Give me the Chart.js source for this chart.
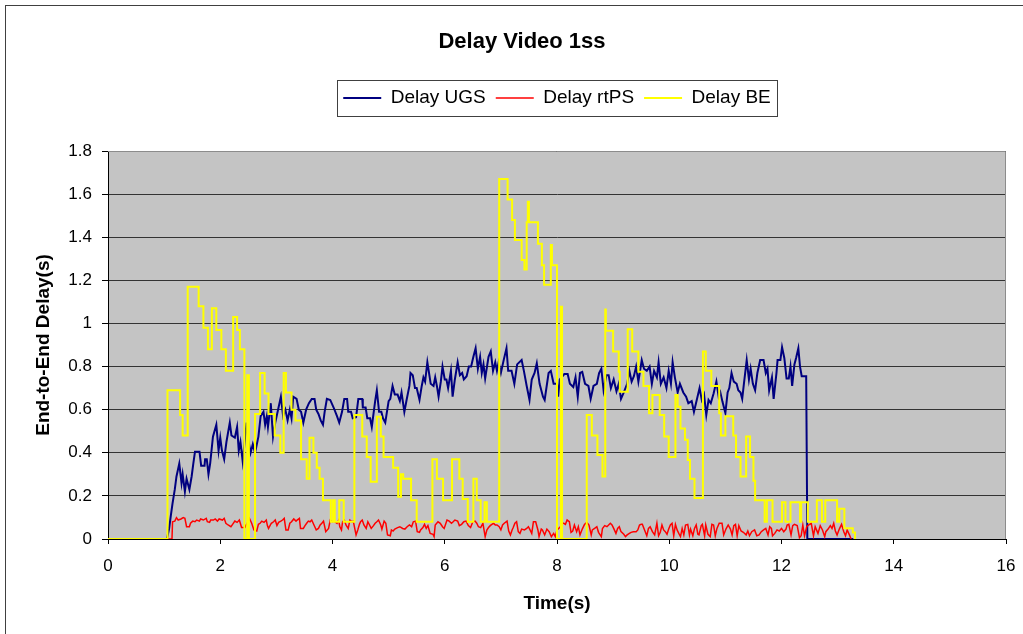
<!DOCTYPE html>
<html>
<head>
<meta charset="utf-8">
<title>Delay Video 1ss</title>
<script src="https://cdn.jsdelivr.net/npm/chart.js@4.4.1/dist/chart.umd.min.js"></script>
<style>
  html, body { margin: 0; padding: 0; background: #ffffff; }
  canvas { display: block; }
</style>
</head>
<body>
<canvas id="delayChart" width="1023" height="634"></canvas>
<script>
// Axis ticks and their labels
const xTicks = [0, 2, 4, 6, 8, 10, 12, 14, 16];
const xTickLabels = ['0', '2', '4', '6', '8', '10', '12', '14', '16'];
const yTicks = [0, 0.2, 0.4, 0.6, 0.8, 1.0, 1.2, 1.4, 1.6, 1.8];
const yTickLabels = ['0', '0.2', '0.4', '0.6', '0.8', '1', '1.2', '1.4', '1.6', '1.8'];

const seriesNames = ['Delay UGS', 'Delay rtPS', 'Delay BE'];

// [time (s), end-to-end delay (s)]
const ugsDelay = [
  [0,0],[1.05,0],[1.09,0.05],[1.12,0.11],[1.15,0.165],[1.19,0.23],[1.22,0.29],[1.27,0.35],[1.31,0.26],[1.33,0.30],
  [1.37,0.22],[1.40,0.28],[1.45,0.23],[1.49,0.29],[1.52,0.35],[1.55,0.405],[1.63,0.405],[1.66,0.34],[1.72,0.34],[1.73,0.37],
  [1.76,0.37],[1.79,0.30],[1.82,0.35],[1.87,0.475],[1.93,0.53],[1.97,0.41],[2.00,0.47],[2.03,0.41],[2.07,0.37],[2.11,0.45],
  [2.17,0.54],[2.20,0.48],[2.26,0.47],[2.30,0.52],[2.33,0.41],[2.36,0.45],[2.40,0.36],[2.47,0.54],[2.50,0.46],[2.54,0.40],
  [2.58,0.44],[2.62,0.40],[2.68,0.475],[2.72,0.57],[2.77,0.59],[2.80,0.53],[2.83,0.57],[2.85,0.52],[2.90,0.63],[2.94,0.475],
  [2.98,0.54],[3.03,0.60],[3.08,0.66],[3.12,0.57],[3.16,0.60],[3.20,0.55],[3.24,0.60],[3.27,0.56],[3.30,0.66],[3.36,0.65],
  [3.40,0.60],[3.44,0.59],[3.48,0.54],[3.53,0.60],[3.58,0.63],[3.63,0.65],[3.68,0.65],[3.71,0.60],[3.75,0.58],[3.79,0.55],
  [3.83,0.53],[3.86,0.59],[3.90,0.65],[3.96,0.645],[4.02,0.61],[4.08,0.57],[4.12,0.54],[4.17,0.59],[4.21,0.65],[4.26,0.65],
  [4.28,0.59],[4.33,0.59],[4.36,0.56],[4.42,0.565],[4.46,0.65],[4.53,0.65],[4.54,0.61],[4.59,0.61],[4.62,0.56],[4.67,0.56],
  [4.70,0.52],[4.76,0.64],[4.79,0.69],[4.83,0.59],[4.87,0.59],[4.90,0.56],[4.94,0.54],[5.00,0.64],[5.03,0.65],[5.07,0.71],
  [5.11,0.67],[5.16,0.67],[5.20,0.64],[5.23,0.68],[5.28,0.59],[5.32,0.645],[5.37,0.71],[5.39,0.77],[5.43,0.76],[5.47,0.70],
  [5.50,0.70],[5.55,0.645],[5.59,0.71],[5.62,0.75],[5.65,0.73],[5.69,0.82],[5.72,0.77],[5.75,0.72],[5.80,0.71],[5.83,0.75],
  [5.86,0.71],[5.89,0.66],[5.93,0.73],[5.96,0.80],[6.00,0.74],[6.03,0.74],[6.06,0.70],[6.11,0.78],[6.14,0.66],[6.18,0.74],
  [6.23,0.82],[6.27,0.76],[6.31,0.77],[6.34,0.74],[6.39,0.755],[6.43,0.80],[6.47,0.80],[6.51,0.845],[6.55,0.885],[6.59,0.79],
  [6.63,0.845],[6.66,0.77],[6.69,0.81],[6.72,0.745],[6.78,0.845],[6.82,0.87],[6.86,0.78],[6.90,0.82],[6.93,0.78],[6.96,0.82],
  [7.00,0.77],[7.05,0.83],[7.10,0.885],[7.13,0.78],[7.19,0.78],[7.24,0.72],[7.29,0.81],[7.37,0.83],[7.41,0.78],[7.46,0.71],
  [7.51,0.645],[7.55,0.74],[7.60,0.77],[7.64,0.815],[7.69,0.72],[7.75,0.66],[7.78,0.645],[7.85,0.77],[7.89,0.78],[7.94,0.72],
  [8.00,0.72],[8.02,0.66],[8.05,0.74],[8.13,0.765],[8.19,0.765],[8.23,0.72],[8.29,0.705],[8.33,0.75],[8.37,0.66],[8.41,0.77],
  [8.45,0.775],[8.50,0.72],[8.56,0.71],[8.60,0.65],[8.65,0.71],[8.71,0.72],[8.75,0.77],[8.79,0.79],[8.83,0.69],[8.88,0.76],
  [8.92,0.76],[8.96,0.70],[9.01,0.74],[9.06,0.685],[9.10,0.72],[9.14,0.65],[9.19,0.68],[9.25,0.72],[9.29,0.78],[9.33,0.73],
  [9.37,0.755],[9.41,0.80],[9.45,0.73],[9.51,0.83],[9.55,0.79],[9.60,0.78],[9.65,0.80],[9.69,0.72],[9.73,0.78],[9.78,0.75],
  [9.81,0.82],[9.85,0.72],[9.90,0.75],[9.95,0.70],[9.99,0.78],[10.03,0.72],[10.06,0.82],[10.10,0.75],[10.15,0.68],[10.19,0.72],
  [10.25,0.68],[10.30,0.66],[10.34,0.63],[10.40,0.64],[10.44,0.59],[10.49,0.645],[10.54,0.70],[10.58,0.645],[10.62,0.67],[10.66,0.575],
  [10.70,0.645],[10.74,0.63],[10.79,0.675],[10.84,0.73],[10.88,0.66],[10.91,0.68],[10.95,0.635],[11.00,0.585],[11.04,0.68],[11.07,0.70],
  [11.11,0.77],[11.15,0.73],[11.20,0.72],[11.23,0.69],[11.27,0.68],[11.30,0.65],[11.33,0.72],[11.38,0.83],[11.42,0.74],[11.45,0.79],
  [11.49,0.72],[11.53,0.69],[11.57,0.77],[11.62,0.83],[11.68,0.83],[11.72,0.77],[11.75,0.79],[11.78,0.69],[11.83,0.75],[11.86,0.65],
  [11.91,0.77],[11.93,0.83],[11.98,0.83],[12.01,0.89],[12.05,0.84],[12.09,0.745],[12.13,0.745],[12.16,0.80],[12.19,0.71],[12.23,0.81],
  [12.26,0.84],[12.30,0.885],[12.33,0.80],[12.36,0.755],[12.44,0.755],[12.46,0],[13.28,0]
];

const rtpsDelay = [
  [0,0],[1.14,0],[1.15,0.080],[1.19,0.083],[1.22,0.099],[1.25,0.088],[1.30,0.093],[1.34,0.099],[1.37,0.096],[1.40,0.057],
  [1.45,0.057],[1.47,0.073],[1.51,0.083],[1.55,0.080],[1.58,0.088],[1.63,0.083],[1.65,0.093],[1.70,0.088],[1.75,0.096],[1.77,0.080],
  [1.81,0.077],[1.83,0.088],[1.88,0.088],[1.91,0.093],[1.95,0.083],[1.98,0.093],[2.04,0.088],[2.07,0.096],[2.10,0.073],[2.14,0.065],
  [2.19,0.057],[2.22,0.068],[2.26,0.083],[2.30,0.077],[2.34,0.088],[2.38,0.053],[2.44,0.053],[2.46,0.065],[2.50,0.083],[2.52,0.096],
  [2.56,0.073],[2.60,0.042],[2.65,0.037],[2.68,0.068],[2.71,0.073],[2.74,0.083],[2.78,0.077],[2.82,0.088],[2.84,0.062],[2.86,0.049],
  [2.91,0.073],[2.95,0.080],[2.98,0.088],[3.01,0.062],[3.04,0.077],[3.08,0.083],[3.11,0.088],[3.14,0.096],[3.17,0.042],[3.21,0.042],
  [3.24,0.073],[3.27,0.080],[3.31,0.093],[3.35,0.083],[3.37,0.088],[3.41,0.096],[3.43,0.049],[3.48,0.049],[3.51,0.062],[3.54,0.073],
  [3.57,0.083],[3.60,0.080],[3.63,0.088],[3.67,0.065],[3.71,0.042],[3.75,0.049],[3.78,0.065],[3.81,0.073],[3.84,0.083],[3.88,0.034],
  [3.93,0.049],[3.96,0.088],[4.00,0.080],[4.03,0.083],[4.08,0.073],[4.11,0.088],[4.13,0.057],[4.16,0.042],[4.18,0.080],[4.21,0.088],
  [4.24,0.065],[4.28,0.049],[4.31,0.088],[4.35,0.080],[4.37,0.083],[4.42,0.019],[4.45,0.042],[4.48,0.068],[4.50,0.080],[4.53,0.088],
  [4.56,0.065],[4.60,0.049],[4.63,0.080],[4.66,0.065],[4.69,0.049],[4.73,0.062],[4.76,0.073],[4.79,0.080],[4.82,0.088],[4.86,0.065],
  [4.88,0.046],[4.92,0.083],[4.95,0.073],[4.98,0.019],[5.03,0.015],[5.05,0.042],[5.08,0.037],[5.11,0.046],[5.16,0.053],[5.20,0.057],
  [5.25,0.049],[5.29,0.046],[5.33,0.057],[5.37,0.065],[5.41,0.057],[5.44,0.080],[5.48,0.083],[5.51,0.034],[5.55,0.031],[5.57,0.042],
  [5.61,0.053],[5.64,0.068],[5.67,0.049],[5.70,0.062],[5.74,0.026],[5.79,0.022],[5.81,0.011],[5.83,0.065],[5.88,0.080],[5.92,0.073],
  [5.96,0.057],[5.99,0.049],[6.04,0.088],[6.08,0.083],[6.12,0.073],[6.15,0.080],[6.18,0.088],[6.23,0.083],[6.26,0.062],[6.30,0.068],
  [6.34,0.080],[6.38,0.083],[6.42,0.062],[6.46,0.053],[6.50,0.080],[6.54,0.083],[6.57,0.073],[6.60,0.057],[6.64,0.053],[6.68,0.073],
  [6.72,0.011],[6.75,0.042],[6.78,0.053],[6.81,0.062],[6.84,0.068],[6.87,0.073],[6.90,0.065],[6.93,0.065],[6.97,0.057],[7.00,0.042],
  [7.03,0.065],[7.06,0.073],[7.11,0.083],[7.14,0.037],[7.17,0.019],[7.20,0.042],[7.22,0.053],[7.25,0.073],[7.28,0.080],[7.31,0.034],
  [7.34,0.026],[7.37,0.046],[7.42,0.042],[7.46,0.049],[7.49,0.057],[7.52,0.042],[7.55,0.026],[7.58,0.080],[7.62,0.080],[7.66,0.042],
  [7.68,0.011],[7.72,0.046],[7.74,0.042],[7.78,0.019],[7.82,0.046],[7.86,0.034],[7.90,0.011],[7.94,0.026],[7.97,0.011],[8.00,0.042],
  [8.03,0.049],[8.06,0.057],[8.09,0.073],[8.12,0.073],[8.15,0.068],[8.18,0.088],[8.22,0.080],[8.25,0.031],[8.28,0.037],[8.31,0.065],
  [8.35,0.034],[8.38,0.057],[8.41,0.019],[8.45,0.046],[8.49,0.068],[8.53,0.077],[8.57,0.065],[8.61,0.019],[8.63,0.042],[8.67,0.049],
  [8.71,0.057],[8.74,0.031],[8.79,0.011],[8.81,0.049],[8.85,0.062],[8.89,0.057],[8.92,0.065],[8.95,0.073],[8.98,0.065],[9.01,0.049],
  [9.05,0.026],[9.08,0.049],[9.11,0.057],[9.14,0.034],[9.19,0.022],[9.22,0.011],[9.25,0.019],[9.29,0.026],[9.32,0.031],[9.36,0.034],
  [9.41,0.034],[9.44,0.042],[9.47,0.065],[9.50,0.068],[9.52,0.068],[9.56,0.042],[9.60,0.015],[9.63,0.049],[9.66,0.057],[9.70,0.034],
  [9.74,0.019],[9.78,0.073],[9.81,0.015],[9.84,0.031],[9.87,0.065],[9.90,0.042],[9.93,0.034],[9.96,0.022],[9.99,0.046],[10.02,0.065],
  [10.05,0.073],[10.08,0.015],[10.11,0.068],[10.14,0.042],[10.17,0.026],[10.20,0.011],[10.23,0.049],[10.26,0.019],[10.29,0.065],[10.33,0.068],
  [10.36,0.019],[10.38,0.046],[10.42,0.015],[10.45,0.049],[10.48,0.065],[10.51,0.022],[10.53,0.019],[10.57,0.062],[10.59,0.068],[10.63,0.015],
  [10.65,0.065],[10.69,0.022],[10.73,0.011],[10.76,0.068],[10.79,0.065],[10.82,0.015],[10.85,0.049],[10.89,0.073],[10.94,0.073],[10.97,0.019],
  [11.01,0.046],[11.05,0.065],[11.09,0.046],[11.12,0.019],[11.15,0.062],[11.18,0.068],[11.21,0.015],[11.24,0.062],[11.28,0.037],[11.32,0.031],
  [11.37,0.019],[11.40,0.037],[11.43,0.015],[11.47,0.034],[11.52,0.042],[11.56,0.015],[11.60,0.019],[11.64,0.034],[11.68,0.042],[11.72,0.049],
  [11.76,0.019],[11.79,0.057],[11.82,0.049],[11.84,0.015],[11.88,0.026],[11.92,0.042],[11.96,0.037],[12.00,0.049],[12.04,0.034],[12.08,0.046],
  [12.10,0.065],[12.13,0.068],[12.17,0.019],[12.20,0.062],[12.23,0.068],[12.28,0.062],[12.32,0.006],[12.35,0.015],[12.38,0.065],[12.41,0.015],
  [12.45,0.057],[12.48,0.065],[12.53,0.073],[12.57,0.015],[12.60,0.057],[12.65,0.026],[12.69,0.062],[12.73,0.042],[12.77,0.011],[12.79,0.034],
  [12.83,0.046],[12.87,0.062],[12.90,0.049],[12.93,0.073],[12.96,0.037],[12.99,0.019],[13.03,0.046],[13.07,0.068],[13.11,0.034],[13.14,0.015],
  [13.17,0.042],[13.21,0.019],[13.24,0]
];

// Best-effort queue: each value holds until the next sample
const beDelay = [
  [0,0],[1.06,0.69],[1.285,0.575],[1.33,0.48],[1.42,1.17],[1.615,1.08],[1.70,0.98],[1.78,0.88],[1.85,1.07],[1.93,0.97],
  [2.02,0.88],[2.10,0.78],[2.23,1.03],[2.30,0.97],[2.35,0.88],[2.43,0],[2.48,0.76],[2.51,0],[2.62,0.58],[2.71,0.77],
  [2.79,0.675],[2.86,0.58],[2.97,0.48],[3.07,0.40],[3.13,0.77],[3.17,0.68],[3.27,0.60],[3.34,0.55],[3.44,0.37],[3.54,0.28],
  [3.59,0.47],[3.66,0.40],[3.72,0.33],[3.77,0.28],[3.83,0.18],[3.97,0.08],[4.01,0.18],[4.04,0.08],[4.12,0.18],[4.20,0.08],
  [4.39,0.575],[4.53,0.475],[4.61,0.38],[4.68,0.266],[4.79,0.567],[4.86,0.475],[4.91,0.38],[5.08,0.33],[5.17,0.196],[5.22,0.30],
  [5.26,0.28],[5.40,0.18],[5.50,0.08],[5.78,0.37],[5.86,0.28],[5.97,0.18],[6.13,0.37],[6.26,0.28],[6.32,0.185],[6.41,0.08],
  [6.51,0.28],[6.57,0.18],[6.64,0.08],[6.71,0.17],[6.75,0.08],[6.97,1.67],[7.12,1.575],[7.20,1.48],[7.25,1.387],[7.37,1.294],
  [7.42,1.25],[7.46,1.47],[7.48,1.565],[7.50,1.47],[7.66,1.37],[7.73,1.27],[7.77,1.18],[7.89,1.364],[7.91,1.27],[8.00,0],
  [8.07,1.077],[8.09,0],[8.53,0.575],[8.62,0.48],[8.72,0.39],[8.81,0.29],[8.86,1.065],[8.87,0.966],[9.00,0.87],[9.10,0.776],
  [9.12,0.683],[9.26,0.973],[9.34,0.87],[9.45,0.776],[9.54,0.71],[9.64,0.583],[9.70,0.668],[9.83,0.575],[9.91,0.475],[9.99,0.38],
  [10.11,0.668],[10.15,0.614],[10.20,0.513],[10.28,0.46],[10.33,0.366],[10.37,0.28],[10.45,0.19],[10.60,0.87],[10.65,0.78],[10.75,0.71],
  [10.89,0.583],[10.92,0.48],[11.00,0.57],[11.14,0.48],[11.19,0.38],[11.27,0.29],[11.37,0.475],[11.44,0.38],[11.50,0.27],[11.53,0.18],
  [11.70,0.08],[11.74,0.18],[11.84,0.08],[12.01,0.17],[12.07,0.08],[12.16,0.17],[12.33,0.08],[12.35,0.17],[12.47,0.08],[12.63,0.18],
  [12.72,0.08],[12.78,0.18],[12.99,0.08],[13.03,0.14],[13.12,0.05],[13.27,0.03],[13.31,0]
];

const FONT = "'Liberation Sans', Arial, Helvetica, sans-serif";
Chart.defaults.font.family = FONT;
Chart.defaults.color = '#000000';

const toXY = pts => pts.map(p => ({ x: p[0], y: p[1] }));

// Page frame, grey plot background, plot outline and the boxed legend
const framePlugin = {
  id: 'frame',
  beforeDraw(chart) {
    const { ctx, chartArea: a } = chart;
    ctx.save();
    ctx.fillStyle = '#ffffff';
    ctx.fillRect(0, 0, chart.width, chart.height);
    ctx.strokeStyle = '#404040';
    ctx.lineWidth = 1;
    ctx.strokeRect(5.5, 5.5, chart.width + 20, chart.height + 20);
    ctx.fillStyle = '#c4c4c4';
    ctx.fillRect(a.left, a.top, a.right - a.left, a.bottom - a.top);
    ctx.restore();
  },
  beforeDatasetsDraw(chart) {
    const { ctx, chartArea: a } = chart;
    ctx.save();
    ctx.strokeStyle = '#8c8c8c';
    ctx.lineWidth = 1;
    ctx.beginPath();
    ctx.moveTo(a.left, a.top + 0.5);
    ctx.lineTo(a.right - 0.5, a.top + 0.5);
    ctx.lineTo(a.right - 0.5, a.bottom);
    ctx.stroke();
    ctx.restore();
  },
  afterDraw(chart) {
    const lg = chart.legend;
    if (!lg || !lg.legendHitBoxes || !lg.legendHitBoxes.length) return;
    const boxes = lg.legendHitBoxes;
    let left = Infinity, right = -Infinity, top = Infinity, bottom = -Infinity;
    boxes.forEach(b => {
      left = Math.min(left, b.left);
      right = Math.max(right, b.left + b.width);
      top = Math.min(top, b.top);
      bottom = Math.max(bottom, b.top + b.height);
    });
    const { ctx } = chart;
    ctx.save();
    ctx.strokeStyle = '#404040';
    ctx.lineWidth = 1;
    ctx.strokeRect(Math.round(left - 6) + 0.5, Math.round(top - 9) + 0.5,
                   Math.round(right - left + 12), Math.round(bottom - top + 17));
    ctx.restore();
  }
};

new Chart(document.getElementById('delayChart'), {
  type: 'line',
  data: {
    datasets: [
      {
        label: seriesNames[0],
        data: toXY(ugsDelay),
        borderColor: '#000080',
        backgroundColor: '#000080',
        borderWidth: 2,
        order: 2
      },
      {
        label: seriesNames[1],
        data: toXY(rtpsDelay),
        borderColor: '#ff0000',
        backgroundColor: '#ff0000',
        borderWidth: 1.5,
        order: 1
      },
      {
        label: seriesNames[2],
        data: toXY(beDelay),
        borderColor: '#ffff00',
        backgroundColor: '#ffff00',
        borderWidth: 2,
        stepped: true,
        order: 0
      }
    ]
  },
  options: {
    responsive: false,
    devicePixelRatio: 1,
    animation: false,
    events: [],
    elements: {
      point: { radius: 0, hoverRadius: 0 },
      line: { tension: 0, fill: false, borderJoinStyle: 'miter' }
    },
    layout: { padding: { left: 38, right: 17, top: 0, bottom: 0 } },
    plugins: {
      title: {
        display: true,
        text: 'Delay Video 1ss',
        color: '#000000',
        font: { size: 22, weight: 'bold' },
        padding: { top: 29, bottom: 23.1 },
        fullSize: true
      },
      subtitle: {
        display: true,
        text: '',
        font: { size: 10 },
        padding: { top: 0, bottom: 21.5 },
        weight: 500,
        fullSize: false
      },
      legend: {
        display: true,
        position: 'top',
        fullSize: false,
        labels: {
          usePointStyle: true,
          pointStyle: 'line',
          pointStyleWidth: 38,
          boxHeight: 19,
          padding: 10,
          color: '#000000',
          font: { size: 19 },
          sort: (a, b) => a.datasetIndex - b.datasetIndex
        }
      },
      tooltip: { enabled: false }
    },
    scales: {
      x: {
        type: 'linear',
        min: 0,
        max: 16,
        afterBuildTicks(scale) { scale.ticks = xTicks.map(v => ({ value: v })); },
        afterFit(scale) { scale.height = 95; },
        ticks: {
          autoSkip: false,
          maxRotation: 0,
          padding: 2,
          color: '#000000',
          font: { size: 17, lineHeight: 2.35 },
          callback: (v, i) => xTickLabels[i]
        },
        grid: {
          drawOnChartArea: false,
          drawTicks: true,
          tickLength: 5,
          tickColor: '#000000'
        },
        border: { display: true, color: '#000000', width: 1 },
        title: {
          display: true,
          text: 'Time(s)',
          color: '#000000',
          font: { size: 19, weight: 'bold' },
          padding: { top: 0, bottom: 19 }
        }
      },
      y: {
        type: 'linear',
        min: 0,
        max: 1.8,
        afterBuildTicks(scale) { scale.ticks = yTicks.map(v => ({ value: v })); },
        afterFit(scale) { scale.width = 70; },
        ticks: {
          autoSkip: false,
          padding: 10,
          color: '#000000',
          font: { size: 17 },
          callback: (v, i) => yTickLabels[i]
        },
        grid: {
          color: '#333333',
          lineWidth: 1,
          drawTicks: true,
          tickLength: 6,
          tickColor: '#000000'
        },
        border: { display: true, color: '#000000', width: 1 },
        title: {
          display: true,
          text: 'End-to-End Delay(s)',
          color: '#000000',
          font: { size: 19, weight: 'bold' },
          padding: { top: -5.4, bottom: 0 }
        }
      }
    }
  },
  plugins: [framePlugin]
});
</script>
</body>
</html>
